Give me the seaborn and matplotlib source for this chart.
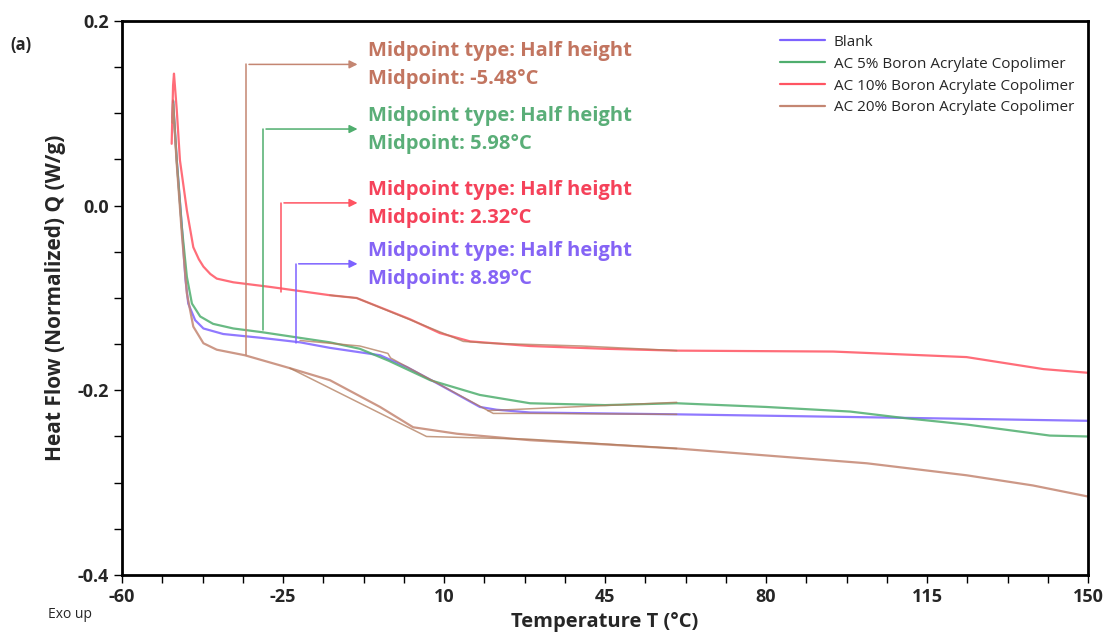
import numpy as np
import pandas as pd
import seaborn as sns
import matplotlib.pyplot as plt
from matplotlib.ticker import FixedLocator

# curve data (temperature degC, heat flow W/g)
blank_t = [-49.0, -48.9, -48.1, -47.0, -46.2, -45.6, -44.1, -42.3, -38.0, -30.0, -21.3, -14.8, -3.9, 2.0, 9.1, 17.8, 21.4, 28.7, 60.6, 100.0, 150.0]
blank_q = [0.095, 0.113, 0.050, -0.022, -0.080, -0.106, -0.124, -0.133, -0.139, -0.143, -0.148, -0.154, -0.162, -0.175, -0.194, -0.218, -0.221, -0.224, -0.226, -0.229, -0.233]

ac5_t = [-49.0, -48.9, -48.1, -47.0, -45.9, -44.8, -43.0, -40.2, -35.8, -29.6, -14.8, -8.3, -2.0, 7.0, 17.8, 28.7, 45.0, 60.6, 80.0, 98.3, 110.0, 123.6, 141.7, 150.0]
ac5_q = [0.090, 0.114, 0.049, -0.023, -0.077, -0.106, -0.120, -0.128, -0.133, -0.137, -0.148, -0.155, -0.168, -0.189, -0.205, -0.214, -0.216, -0.214, -0.218, -0.223, -0.230, -0.237, -0.249, -0.250]

ac10_t = [-49.2, -48.9, -48.7, -48.1, -47.4, -45.9, -44.5, -43.3, -42.3, -40.8, -39.4, -35.8, -27.8, -14.8, -9.0, 2.6, 9.1, 15.7, 28.7, 45.0, 60.6, 94.6, 123.6, 140.3, 150.0]
ac10_q = [0.067, 0.130, 0.143, 0.104, 0.049, -0.005, -0.045, -0.058, -0.066, -0.074, -0.079, -0.083, -0.088, -0.097, -0.100, -0.123, -0.138, -0.147, -0.152, -0.155, -0.157, -0.158, -0.164, -0.177, -0.181]

ac20_t = [-49.0, -48.9, -48.1, -47.0, -45.9, -44.5, -42.3, -39.4, -33.3, -23.5, -14.8, -3.9, 3.3, 12.8, 28.7, 60.6, 101.9, 123.6, 138.0, 150.0]
ac20_q = [0.090, 0.110, 0.045, -0.030, -0.095, -0.131, -0.149, -0.156, -0.162, -0.176, -0.189, -0.218, -0.240, -0.247, -0.254, -0.263, -0.279, -0.292, -0.303, -0.315]

names = ["Blank", "AC 5% Boron Acrylate Copolimer", "AC 10% Boron Acrylate Copolimer", "AC 20% Boron Acrylate Copolimer"]
line_colors = ["#7d62ff", "#4fae6e", "#ff5462", "#c48672"]
text_colors = ["#8564f5", "#5aae78", "#f5425a", "#c27560"]

# midpoint callouts: label, line x (degC), curve y at foot, arrow y
mid_labels = ["-5.48°C", "5.98°C", "2.32°C", "8.89°C"]
mid_series = [3, 1, 2, 0]
mid_x = [-33.0, -29.3, -25.4, -22.2]
mid_foot = [-0.162, -0.135, -0.093, -0.149]
mid_arrow = [0.153, 0.083, 0.003, -0.063]

# tangent construction segments (brown)
tan_t = [[-14.8, -9.0, 14.2, 20.0, 40.0, 60.6],
         [-21.3, -8.3, -2.2, -1.6, 20.7, 28.7, 60.6],
         [19.5, 60.6],
         [-23.5, 6.2, 28.7, 60.6]]
tan_q = [[-0.097, -0.100, -0.147, -0.149, -0.152, -0.157],
         [-0.146, -0.152, -0.160, -0.165, -0.225, -0.225, -0.226],
         [-0.222, -0.213],
         [-0.176, -0.250, -0.253, -0.263]]

x_major = [-60, -25, 10, 45, 80, 115, 150]
y_major = [0.2, 0.0, -0.2, -0.4]

frames = []
for n, t, q in zip(names, [blank_t, ac5_t, ac10_t, ac20_t], [blank_q, ac5_q, ac10_q, ac20_q]):
    frames.append(pd.DataFrame({"T": t, "Q": q, "sample": n}))
df = pd.concat(frames, ignore_index=True)

sns.set_style("white")
plt.rcParams["font.family"] = ["Open Sans", "DejaVu Sans"]

fig = plt.figure(figsize=(11.09, 6.41), dpi=100)
ax = fig.add_axes([122 / 1109, 1 - 575 / 641, (1088 - 122) / 1109, (575 - 21) / 641])

sns.lineplot(data=df, x="T", y="Q", hue="sample", hue_order=names,
             palette=dict(zip(names, line_colors)), sort=False, estimator=None,
             lw=1.6, alpha=0.85, ax=ax, legend=False)
for tt, qq in zip(tan_t, tan_q):
    ax.plot(tt, qq, color="#b07a5a", lw=1.1, alpha=0.75, zorder=3)
for n, c in zip(names, line_colors):
    ax.plot([], [], color=c, lw=1.6, label=n)

for lab, s, x0, yf, ya in zip(mid_labels, mid_series, mid_x, mid_foot, mid_arrow):
    c = line_colors[s]
    ax.plot([x0, x0], [yf, ya], color=c, lw=1.1)
    ax.annotate("", xy=(-8.2, ya), xytext=(x0, ya),
                arrowprops=dict(arrowstyle="-|>", color=c, lw=1.1, mutation_scale=12))
    ax.text(-6.5, ya + 0.014, "Midpoint type: Half height", color=text_colors[s],
            fontsize=14.5, fontweight="bold", va="center")
    ax.text(-6.5, ya - 0.016, "Midpoint: " + lab, color=text_colors[s],
            fontsize=14.5, fontweight="bold", va="center")

ax.set_xlim(-60, 150)
ax.set_ylim(-0.4, 0.2)
ax.xaxis.set_major_locator(FixedLocator(x_major))
ax.xaxis.set_minor_locator(FixedLocator([-60 + 8.75 * k for k in range(25)]))
ax.yaxis.set_major_locator(FixedLocator(y_major))
ax.yaxis.set_minor_locator(FixedLocator([0.2 - 0.05 * k for k in range(13)]))
ax.set_xticklabels([str(v) for v in x_major])
ax.set_yticklabels(["0.2", "0.0", "-0.2", "-0.4"])
ax.tick_params(which="both", direction="out", left=True, bottom=True, width=1, color="black", length=6)
ax.tick_params(which="major", labelsize=13)
for lbl in ax.get_xticklabels() + ax.get_yticklabels():
    lbl.set_fontweight("bold")
for sp in ax.spines.values():
    sp.set_visible(True)
    sp.set_color("black")
    sp.set_linewidth(2)

ax.set_xlabel("Temperature T (°C)", fontsize=14.5, fontweight="bold", labelpad=4)
ax.set_ylabel("Heat Flow (Normalized) Q (W/g)", fontsize=15, fontweight="bold", labelpad=8)

leg = ax.legend(loc="upper right", frameon=False, fontsize=11, handlelength=2.9,
                borderaxespad=0.5, labelspacing=0.45, handletextpad=0.6)

fig.text(10 / 1109, 1 - 45 / 641, "(a)", fontsize=12, fontweight="bold", va="center")
fig.text(48 / 1109, 1 - 614 / 641, "Exo up", fontsize=10, va="center")

fig.savefig("out.png", dpi=100)
